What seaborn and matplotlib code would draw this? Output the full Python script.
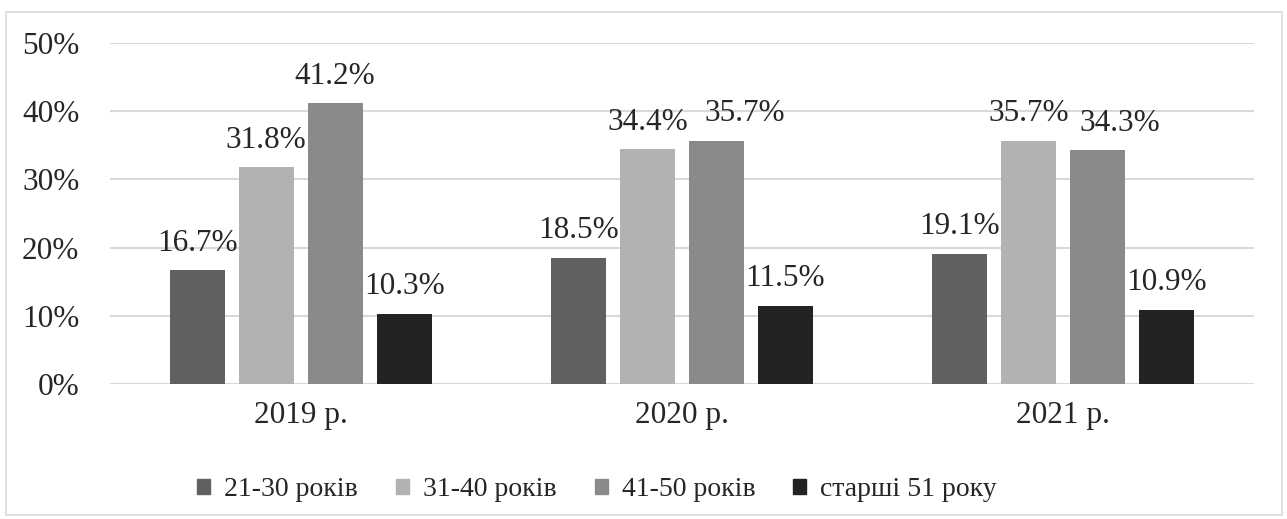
import pandas as pd
import matplotlib.pyplot as plt
import matplotlib.patches as mpatches
import seaborn as sns

years = ['2019 р.', '2020 р.', '2021 р.']
groups = ['21-30 років', '31-40 років', '41-50 років', 'старші 51 року']
v_21_30 = [16.7, 18.5, 19.1]
v_31_40 = [31.8, 34.4, 35.7]
v_41_50 = [41.2, 35.7, 34.3]
v_51 = [10.3, 11.5, 10.9]
colors = ['#606060', '#b2b2b2', '#8a8a8a', '#232323']

df = pd.DataFrame({
    'year': years * 4,
    'group': [g for g in groups for _ in years],
    'value': v_21_30 + v_31_40 + v_41_50 + v_51,
})

sns.set_style('white')
plt.rcParams['font.family'] = ['Liberation Serif', 'DejaVu Serif']
fs = 22.5

fig = plt.figure(figsize=(12.87, 5.19), dpi=100)
ax = fig.add_axes([110 / 1287, 1 - 384 / 519, 1144 / 1287, 341 / 519])

sns.barplot(data=df, x='year', y='value', hue='group', palette=colors,
            width=0.724, gap=0.2, ax=ax, legend=False, zorder=3,
            edgecolor='none')

# labels nudged sideways where they would collide (like Excel does)
nudge = {(2, 1): 20, (2, 2): 16}
for gi, cont in enumerate(ax.containers):
    for yi, bar in enumerate(cont):
        v = cont.datavalues[yi]
        ax.annotate(f'{v:.1f}%', (bar.get_x() + bar.get_width() / 2, bar.get_height()),
                    xytext=(nudge.get((gi, yi), 0), 9), textcoords='offset points',
                    ha='center', va='bottom', fontsize=fs)

ax.set_ylim(0, 50)
ax.set_xlim(-0.5, 2.5)
ax.set_yticks(range(0, 51, 10))
ax.set_yticklabels([f'{t}%' for t in range(0, 51, 10)], fontsize=fs)
ax.tick_params(axis='x', labelsize=fs, length=0, pad=12)
ax.tick_params(axis='y', length=0, pad=22)
ax.yaxis.grid(True, color='#d9d9d9', linewidth=1.5, zorder=0)
ax.set_axisbelow(True)
for s in ax.spines.values():
    s.set_visible(False)
ax.set_xlabel('')
ax.set_ylabel('')

handles = [mpatches.Patch(color=c, label=g) for c, g in zip(colors, groups)]
fig.legend(handles=handles, loc='center', bbox_to_anchor=(597 / 1287, 1 - 490 / 519),
           ncol=4, frameon=False, fontsize=20, handlelength=0.47, handleheight=0.47,
           handletextpad=0.5, columnspacing=1.37)

fig.patches.append(mpatches.Rectangle((6 / 1287, 4 / 519), 1276 / 1287, 503 / 519,
                                      transform=fig.transFigure, fill=False,
                                      edgecolor='#d9d9d9', linewidth=1.2))

fig.savefig('out.png', dpi=100)
